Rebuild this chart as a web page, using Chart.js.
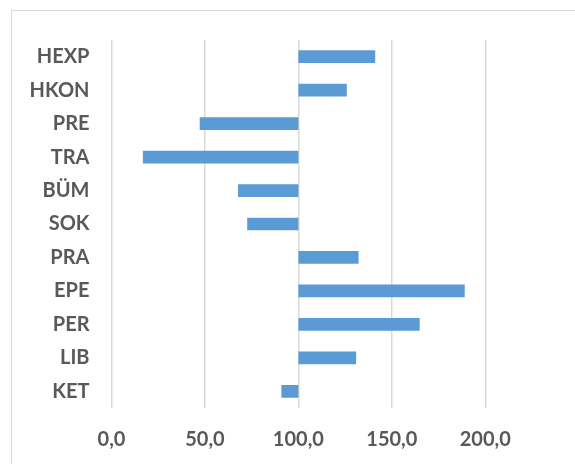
<!DOCTYPE html>
<html>
<head>
<meta charset="utf-8">
<script src="https://cdn.jsdelivr.net/npm/chart.js@4/dist/chart.umd.min.js"></script>
<style>
  html, body { margin: 0; padding: 0; background: #fff; overflow: hidden; }
  #wrap { position: relative; width: 575px; height: 464px; }
  #frame {
    position: absolute; left: 11px; top: 10px; right: -5px; bottom: -5px;
    border-top: 1px solid #d9d9d9; border-left: 1px solid #d9d9d9;
  }
  canvas { position: absolute; left: 0; top: 0; }
</style>
</head>
<body>
<div id="wrap">
  <div id="frame"></div>
  <canvas id="chart" width="575" height="464"></canvas>
</div>
<script>
// categories, top to bottom
const categories = ["HEXP", "HKON", "PRE", "TRA", "BÜM", "SOK", "PRA", "EPE", "PER", "LIB", "KET"];
// index values, bars start from the 100 baseline
const values = [141.1, 125.9, 47.2, 16.8, 67.7, 72.6, 132.2, 189.0, 164.9, 130.9, 90.9];
const baseline = 100;
const xTicks = [0, 50, 100, 150, 200];

const textColor = "#595959";
const labelFont = { family: "Lato", size: 20, weight: "bold" };

const ctx = document.getElementById("chart");
new Chart(ctx, {
  type: "bar",
  data: {
    labels: categories,
    datasets: [
      {
        data: values.map(v => [baseline, v]),
        backgroundColor: "#5b9bd5",
        borderWidth: 0,
        barPercentage: 0.38,
        categoryPercentage: 1
      }
    ]
  },
  options: {
    indexAxis: "y",
    responsive: false,
    animation: false,
    layout: { padding: { top: 40, right: 0, left: 0, bottom: 0 } },
    plugins: {
      legend: { display: false },
      tooltip: { enabled: false }
    },
    scales: {
      x: {
        min: 0,
        max: 248,
        afterFit: scale => { scale.height = 56; },
        afterBuildTicks: scale => {
          scale.ticks = xTicks.map(v => ({ value: v }));
        },
        ticks: {
          color: textColor,
          font: labelFont,
          padding: 20,
          callback: v => v.toFixed(1).replace(".", ",")
        },
        grid: { color: "#d9d9d9", lineWidth: 1.5, drawTicks: false },
        border: { display: false }
      },
      y: {
        afterFit: scale => { scale.width = 111.5; },
        ticks: { color: textColor, font: labelFont, padding: 22 },
        grid: { display: false, drawTicks: false },
        border: { display: false }
      }
    }
  }
});
</script>
</body>
</html>
